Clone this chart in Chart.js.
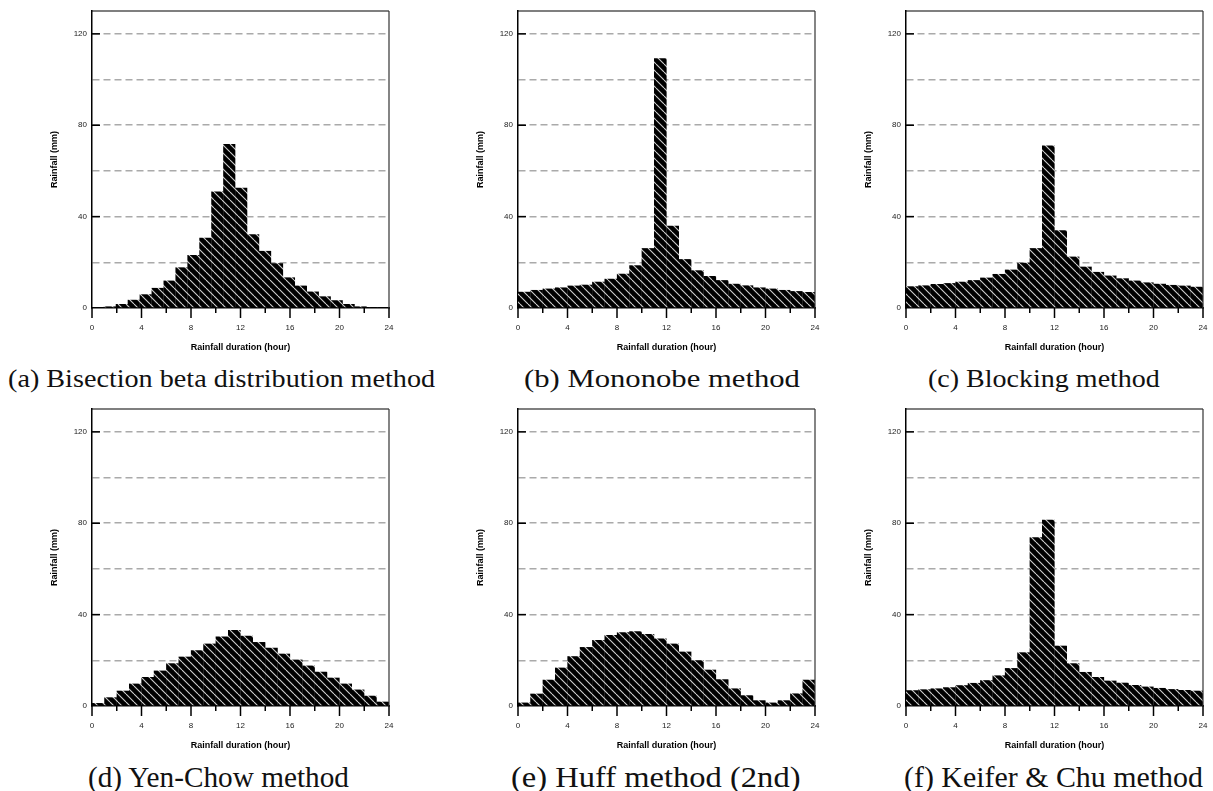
<!DOCTYPE html>
<html><head><meta charset="utf-8">
<script src="https://cdn.jsdelivr.net/npm/chart.js@4.4.1/dist/chart.umd.min.js"></script>
<style>
html,body{margin:0;padding:0;background:#fff;width:1213px;height:791px;overflow:hidden;}
canvas{position:absolute;}
.cap{position:absolute;white-space:pre;font-family:"Liberation Serif",serif;color:#111;transform-origin:0 50%;line-height:1;}
</style></head><body>
<canvas id="c0" width="370" height="360" style="left:30px;top:0px"></canvas>
<canvas id="c1" width="370" height="360" style="left:456px;top:0px"></canvas>
<canvas id="c2" width="368" height="360" style="left:844px;top:0px"></canvas>
<canvas id="c3" width="370" height="360" style="left:30px;top:398px"></canvas>
<canvas id="c4" width="370" height="360" style="left:456px;top:398px"></canvas>
<canvas id="c5" width="368" height="360" style="left:844px;top:398px"></canvas>
<script>
// ---- data ----
const hourCenters = [0.5,1.5,2.5,3.5,4.5,5.5,6.5,7.5,8.5,9.5,10.5,11.5,12.5,13.5,14.5,15.5,16.5,17.5,18.5,19.5,20.5,21.5,22.5,23.5];
const bisectionCenters = [0.482,1.447,2.411,3.376,4.340,5.305,6.270,7.234,8.199,9.163,10.128,11.092,12.057,13.022,13.986,14.951,15.915,16.880,17.845,18.809,19.774,20.738,21.703,22.667];
const bisectionBeta = [0,0.7,1.75,3.6,6,8.8,12,17.8,23.2,30.8,51,71.8,52.6,32.3,25,19.6,13.4,9.8,7.2,5.1,3.4,1.75,0.7,0.3];
const mononobe = [7.1,7.9,8.5,9.0,9.8,10.2,11.5,12.8,15,18.7,26.2,109.3,36,21.4,16.5,14,12.2,10.6,9.9,9.0,8.5,7.9,7.4,7.0];
const blocking = [9.5,9.9,10.5,10.9,11.5,12.2,13.3,14.9,16.8,19.8,26.2,71.1,34,22.5,18.1,15.8,14.2,13,12,11.2,10.6,10.1,9.8,9.3];
const yenChow = [1.3,3.8,6.7,9.8,12.7,15.5,18.7,21.6,24.4,27.3,30.4,33.3,30.8,28,25.5,22.9,20.3,17.7,15,12.4,9.8,7.2,4.5,1.9];
const huff2nd = [1.5,5.4,11.5,16.8,21.8,25.8,28.9,31.1,32.3,32.7,31.5,29.6,27.3,23.8,20,15.9,11.7,7.7,4.7,2.5,1.5,2.5,5.5,11.5];
const keiferChu = [6.9,7.3,7.7,8.2,9.1,10.1,11.3,13.4,16.6,23.5,73.9,81.5,26.4,18.7,14.9,12.7,11.1,10.2,9.2,8.5,7.9,7.4,7.0,6.7];
const xTickLabels = [0,4,8,12,16,20,24];
const yTickLabels = [0,40,80,120];
const captions = ["(a) Bisection beta distribution method","(b) Mononobe method","(c) Blocking method","(d) Yen-Chow method","(e) Huff method (2nd)","(f) Keifer & Chu method"];
const xTitle = "Rainfall duration (hour)";
const yTitle = "Rainfall (mm)";

// ---- hatch pattern ----
function makeHatch(){
  const t = document.createElement('canvas'); t.width = 8; t.height = 8;
  const g = t.getContext('2d');
  g.fillStyle = '#000'; g.fillRect(0,0,8,8);
  g.strokeStyle = '#cfcfcf'; g.lineWidth = 1.1;
  for (const k of [-8,0,8]) { g.beginPath(); g.moveTo(k,0); g.lineTo(k+8,8); g.stroke(); }
  return g.createPattern(t,'repeat');
}
const hatch = makeHatch();

const axisDeco = {
  id:'axisDeco',
  afterDraw(chart){
    const {ctx, chartArea:{left,right,top,bottom}, scales:{x,y}} = chart;
    ctx.save();
    const line=(a,b,c,d)=>{ctx.beginPath();ctx.moveTo(a,b);ctx.lineTo(c,d);ctx.stroke();};
    ctx.lineWidth = 1.2; ctx.strokeStyle = '#000';
    line(left,top,right,top);
    ctx.strokeStyle = '#333';
    line(right,top,right,bottom);
    ctx.strokeStyle = '#000'; ctx.lineWidth = 1.5;
    y.ticks.forEach(t=>{ if (t.value>0 && yTickLabels.includes(t.value)) { const py=y.getPixelForValue(t.value); line(left,py,left+8,py);} });
    x.ticks.forEach(t=>{ const px=x.getPixelForValue(t.value); const len = xTickLabels.includes(t.value)?10:5; line(px,bottom,px,bottom+len); });
    ctx.restore();
  }
};

function makeChart(id, xs, vals, rightPad){
  return new Chart(document.getElementById(id), {
    type:'bar',
    data:{ datasets:[{ data: xs.map((x,i)=>({x:x, y:vals[i]})), backgroundColor:hatch, borderWidth:0, barPercentage:1.02, categoryPercentage:1 }] },
    options:{
      responsive:false, animation:false, events:[],
      layout:{ padding:{ top:11, right:rightPad, left:0, bottom:0 } },
      plugins:{ legend:{display:false}, tooltip:{enabled:false} },
      scales:{
        x:{ type:'linear', min:0, max:24, offset:false,
            afterFit:s=>{ s.height = 52; },
            grid:{ display:true, drawOnChartArea:false, drawTicks:true, tickLength:15, tickColor:'rgba(0,0,0,0)' },
            border:{ display:true, color:'#000', width:1.5 },
            ticks:{ stepSize:2, autoSkip:false, maxRotation:0, padding:0, color:'#222',
                    font:{ family:'"Liberation Sans", Arial, sans-serif', size:8 },
                    callback:v=> xTickLabels.includes(v) ? String(v) : '' },
            title:{ display:true, text:xTitle, color:'#000', padding:{top:0,bottom:6.6},
                    font:{ family:'"Liberation Sans", Arial, sans-serif', size:9, weight:'bold' } } },
        y:{ min:0, max:130,
            afterFit:s=>{ s.width = 62; },
            grid:{ drawTicks:false, lineWidth:1.5, color:c=> (c.tick && c.tick.value>0 && c.tick.value<=120) ? '#aaaaaa' : 'rgba(0,0,0,0)' },
            border:{ display:true, color:'#000', width:1.5, dash:[7,4] },
            ticks:{ stepSize:20, padding:5, color:'#222',
                    font:{ family:'"Liberation Sans", Arial, sans-serif', size:8 },
                    callback:v=> yTickLabels.includes(v) ? String(v) : '' },
            title:{ display:true, text:yTitle, color:'#000', padding:{top:19.6,bottom:0},
                    font:{ family:'"Liberation Sans", Arial, sans-serif', size:9, weight:'bold' } } }
      }
    },
    plugins:[axisDeco]
  });
}

makeChart('c0', bisectionCenters, bisectionBeta, 11);
makeChart('c1', hourCenters, mononobe, 11);
makeChart('c2', hourCenters, blocking, 9);
makeChart('c3', hourCenters, yenChow, 11);
makeChart('c4', hourCenters, huff2nd, 11);
makeChart('c5', hourCenters, keiferChu, 9);

// ---- captions ----
const capBoxes = [
  {l:8,   cy:378, w:427, fs:25, sy:1},
  {l:524, cy:378, w:276, fs:25, sy:1},
  {l:928, cy:378, w:232, fs:25, sy:1},
  {l:88,  cy:777, w:261, fs:25, sy:1.15},
  {l:511, cy:777, w:289, fs:25, sy:1.15},
  {l:904, cy:777, w:299, fs:25, sy:1.15}
];
captions.forEach((txt,i)=>{
  const b = capBoxes[i];
  const d = document.createElement('div');
  d.className = 'cap'; d.textContent = txt;
  d.style.fontSize = b.fs+'px';
  document.body.appendChild(d);
  const w = d.offsetWidth, h = d.offsetHeight;
  d.style.left = b.l+'px';
  d.style.top = (b.cy - h/2)+'px';
  d.style.transform = 'scale('+(b.w/w)+','+b.sy+')';
});
</script>
</body></html>
